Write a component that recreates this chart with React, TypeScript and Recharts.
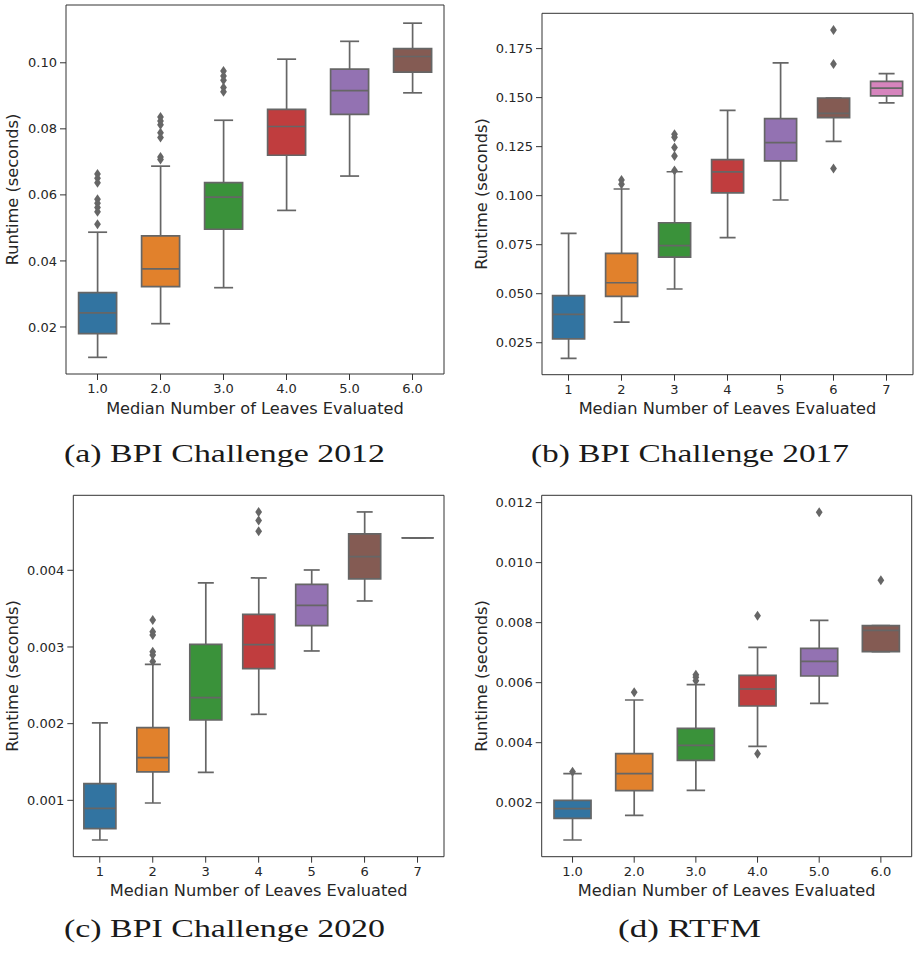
import React from 'react';
import { ComposedChart, Bar, Scatter, XAxis, YAxis, ReferenceArea } from 'recharts';

const LINE = '#666666';
const TEXT = '#262626';
const SPINE = '#333333';
const PALETTE = ['#3274a1', '#e1812c', '#3a923a', '#c03d3e', '#9372b2', '#845b53', '#d684bd'];
const X_LABEL = 'Median Number of Leaves Evaluated';
const Y_LABEL = 'Runtime (seconds)';

// ---------- (a) BPI Challenge 2012 ----------
const catsA = [1, 2, 3, 4, 5, 6];
const tickLabelsA = ['1.0', '2.0', '3.0', '4.0', '5.0', '6.0'];
const loA = [0.0108, 0.021, 0.0319, 0.0553, 0.0657, 0.0909];
const q1A = [0.018, 0.0322, 0.0496, 0.072, 0.0844, 0.0972];
const medA = [0.0243, 0.0376, 0.0593, 0.0807, 0.0916, 0.1019];
const q3A = [0.0304, 0.0476, 0.0637, 0.0859, 0.0981, 0.1043];
const hiA = [0.0487, 0.0687, 0.0826, 0.1011, 0.1065, 0.112];
const outCatA = [1, 1, 1, 1, 1, 1, 1, 1, 2, 2, 2, 2, 2, 2, 2, 3, 3, 3, 3, 3];
const outValA = [0.0663, 0.065, 0.0637, 0.0587, 0.0575, 0.0562, 0.0549, 0.0511, 0.0836, 0.0824, 0.0812, 0.0788, 0.0774, 0.0715, 0.0707, 0.0975, 0.096, 0.0947, 0.0925, 0.0912];
const yTicksA = [0.02, 0.04, 0.06, 0.08, 0.1];
const yDomainA = [0.00576, 0.1175];

// ---------- (b) BPI Challenge 2017 ----------
const catsB = [1, 2, 3, 4, 5, 6, 7];
const tickLabelsB = ['1', '2', '3', '4', '5', '6', '7'];
const loB = [0.017, 0.0355, 0.0524, 0.0786, 0.0978, 0.1277, 0.1473];
const q1B = [0.027, 0.0486, 0.0687, 0.1014, 0.1177, 0.1398, 0.1509];
const medB = [0.0395, 0.0556, 0.0745, 0.1121, 0.127, 0.142, 0.1548];
const q3B = [0.049, 0.0706, 0.0862, 0.1184, 0.1393, 0.1498, 0.1583];
const hiB = [0.0808, 0.1034, 0.1122, 0.1435, 0.1677, 0.1498, 0.1622];
const outCatB = [2, 2, 3, 3, 3, 3, 3, 6, 6, 6];
const outValB = [0.108, 0.1058, 0.1313, 0.1298, 0.1245, 0.1202, 0.1128, 0.1845, 0.1672, 0.1139];
const yTicksB = [0.025, 0.05, 0.075, 0.1, 0.125, 0.15, 0.175];
const yDomainB = [0.0087, 0.193];

// ---------- (c) BPI Challenge 2020 ----------
const catsC = [1, 2, 3, 4, 5, 6, 7];
const tickLabelsC = ['1', '2', '3', '4', '5', '6', '7'];
const loC = [0.000483, 0.000965, 0.001365, 0.002122, 0.002948, 0.0036, 0.004422];
const q1C = [0.00063, 0.00137, 0.002048, 0.002717, 0.003278, 0.003887, 0.004422];
const medC = [0.000896, 0.001557, 0.002339, 0.00303, 0.003543, 0.004178, 0.004422];
const q3C = [0.001217, 0.001948, 0.003035, 0.003426, 0.003817, 0.004474, 0.004422];
const hiC = [0.002009, 0.002774, 0.003835, 0.0039, 0.004004, 0.004761, 0.004422];
const outCatC = [2, 2, 2, 2, 2, 2, 4, 4, 4];
const outValC = [0.003352, 0.0032, 0.003157, 0.002939, 0.002896, 0.002809, 0.004761, 0.004648, 0.004509];
const yTicksC = [0.001, 0.002, 0.003, 0.004];
const yDomainC = [0.000265, 0.004978];

// ---------- (d) RTFM ----------
const catsD = [1, 2, 3, 4, 5, 6];
const tickLabelsD = ['1.0', '2.0', '3.0', '4.0', '5.0', '6.0'];
const loD = [0.000756, 0.001578, 0.002411, 0.003878, 0.005311, 0.007033];
const q1D = [0.001478, 0.0024, 0.003411, 0.005222, 0.006222, 0.007033];
const medD = [0.0018, 0.002967, 0.003911, 0.005789, 0.006711, 0.007744];
const q3D = [0.002078, 0.003633, 0.004478, 0.006244, 0.007144, 0.0079];
const hiD = [0.002967, 0.005422, 0.005933, 0.007178, 0.008078, 0.0079];
const outCatD = [1, 2, 3, 3, 3, 4, 4, 5, 6];
const outValD = [0.003033, 0.005678, 0.006267, 0.006178, 0.006067, 0.008233, 0.003633, 0.011678, 0.009411];
const yTicksD = [0.002, 0.004, 0.006, 0.008, 0.01, 0.012];
const yDomainD = [0.0002, 0.012244];

const captions = ['(a) BPI Challenge 2012', '(b) BPI Challenge 2017', '(c) BPI Challenge 2020', '(d) RTFM'];

function buildRows(cats: number[], lo: number[], q1: number[], med: number[], q3: number[], hi: number[]) {
  return cats.map((c, i) => ({
    x: c,
    whisk: [lo[i], hi[i]],
    box: [q1[i], q3[i]],
    med: [med[i], med[i]],
    color: PALETTE[i % PALETTE.length],
  }));
}

function buildOutliers(cats: number[], vals: number[]) {
  return cats.map((c, i) => ({ x: c, y: vals[i] }));
}

const WhiskerShape = (p: any) => {
  const { x, y, width, height } = p;
  if (x == null || y == null) return null;
  const cx = x + width / 2;
  const top = Math.min(y, y + height);
  const bot = Math.max(y, y + height);
  const hw = width / 4;
  return (
    <g stroke={LINE} strokeWidth={1.7} fill="none">
      <line x1={cx} x2={cx} y1={top} y2={bot} />
      <line x1={cx - hw} x2={cx + hw} y1={top} y2={top} />
      <line x1={cx - hw} x2={cx + hw} y1={bot} y2={bot} />
    </g>
  );
};

const BoxShape = (p: any) => {
  const { x, y, width, height } = p;
  if (x == null || y == null) return null;
  const top = Math.min(y, y + height);
  const bot = Math.max(y, y + height);
  const fill = (p.payload && p.payload.color) || p.fill;
  return (
    <path
      d={`M${x},${top}H${x + width}V${bot}H${x}Z`}
      fill={fill}
      stroke={LINE}
      strokeWidth={1.7}
      strokeLinejoin="miter"
    />
  );
};

const MedianShape = (p: any) => {
  const { x, y, width } = p;
  if (x == null || y == null) return null;
  return <line x1={x} x2={x + width} y1={y} y2={y} stroke={LINE} strokeWidth={1.7} />;
};

const Diamond = (p: any) => {
  const { cx, cy } = p;
  if (cx == null || cy == null) return null;
  return <path d={`M${cx},${cy - 5}L${cx + 3.4},${cy}L${cx},${cy + 5}L${cx - 3.4},${cy}Z`} fill={LINE} stroke="none" />;
};

type PanelCfg = {
  wx: number; wy: number; ww: number; wh: number;
  margin: { top: number; right: number; bottom: number; left: number };
  yAxisWidth: number;
  cats: number[]; tickLabels: string[];
  rows: any[]; outliers: any[];
  yDomain: number[]; yTicks: number[]; yDigits: number;
  yLabelX: number; xLabelDy: number;
};

function Panel({ cfg }: { cfg: PanelCfg }) {
  const { wx, wy, ww, wh, margin, yAxisWidth, cats, tickLabels, rows, outliers, yDomain, yTicks, yDigits, yLabelX, xLabelDy } = cfg;
  const xDomain = [0.5, cats.length + 0.5];
  const tickStyle = { fill: TEXT, fontSize: 13, fontFamily: 'DejaVu Sans' };
  const xLabel = (props: any) => {
    const vb = props.viewBox || {};
    return (
      <text x={vb.x + vb.width / 2} y={vb.y + xLabelDy} textAnchor="middle" fontSize={16.2} fontFamily="DejaVu Sans" fill={TEXT}>
        {X_LABEL}
      </text>
    );
  };
  const yLabel = (props: any) => {
    const vb = props.viewBox || {};
    const lx = vb.x + yLabelX;
    const ly = vb.y + vb.height / 2;
    return (
      <text x={lx} y={ly} transform={`rotate(-90, ${lx}, ${ly})`} textAnchor="middle" fontSize={16.2} fontFamily="DejaVu Sans" fill={TEXT}>
        {Y_LABEL}
      </text>
    );
  };
  return (
    <div style={{ position: 'absolute', left: wx, top: wy, width: ww, height: wh }}>
      <ComposedChart width={ww} height={wh} data={rows} margin={margin} barCategoryGap="20%">
        <XAxis
          xAxisId="main"
          type="number"
          dataKey="x"
          domain={xDomain}
          ticks={cats}
          interval={0}
          allowDataOverflow
          height={30}
          axisLine={false}
          tickLine={{ stroke: SPINE }}
          tickSize={6}
          tickMargin={4}
          tick={tickStyle}
          tickFormatter={(v: number) => tickLabels[cats.indexOf(v)] ?? ''}
          label={xLabel}
        />
        <XAxis xAxisId="w" type="number" dataKey="x" domain={xDomain} ticks={cats} allowDataOverflow hide height={0} />
        <XAxis xAxisId="m" type="number" dataKey="x" domain={xDomain} ticks={cats} allowDataOverflow hide height={0} />
        <YAxis
          type="number"
          domain={yDomain}
          ticks={yTicks}
          interval={0}
          allowDataOverflow
          width={yAxisWidth}
          axisLine={false}
          tickLine={{ stroke: SPINE }}
          tickSize={6}
          tickMargin={3}
          tick={tickStyle}
          tickFormatter={(v: number) => v.toFixed(yDigits)}
          label={yLabel}
        />
        <Bar xAxisId="w" dataKey="whisk" shape={WhiskerShape} isAnimationActive={false} />
        <Bar xAxisId="main" dataKey="box" shape={BoxShape} isAnimationActive={false} />
        <Bar xAxisId="m" dataKey="med" shape={MedianShape} isAnimationActive={false} />
        <Scatter xAxisId="main" data={outliers} dataKey="y" shape={Diamond} isAnimationActive={false} />
        <ReferenceArea
          xAxisId="main"
          x1={xDomain[0]}
          x2={xDomain[1]}
          y1={yDomain[0]}
          y2={yDomain[1]}
          fill="none"
          fillOpacity={0}
          stroke={SPINE}
          strokeWidth={1}
          ifOverflow="visible"
        />
      </ComposedChart>
    </div>
  );
}

const panels: PanelCfg[] = [
  {
    wx: 0, wy: 0, ww: 458, wh: 420,
    margin: { top: 5, right: 14, bottom: 16, left: 0 },
    yAxisWidth: 66,
    cats: catsA, tickLabels: tickLabelsA,
    rows: buildRows(catsA, loA, q1A, medA, q3A, hiA),
    outliers: buildOutliers(outCatA, outValA),
    yDomain: yDomainA, yTicks: yTicksA, yDigits: 2,
    yLabelX: 18, xLabelDy: 40,
  },
  {
    wx: 458, wy: 0, ww: 458, wh: 420,
    margin: { top: 13.3, right: 3, bottom: 15.3, left: 0 },
    yAxisWidth: 84,
    cats: catsB, tickLabels: tickLabelsB,
    rows: buildRows(catsB, loB, q1B, medB, q3B, hiB),
    outliers: buildOutliers(outCatB, outValB),
    yDomain: yDomainB, yTicks: yTicksB, yDigits: 3,
    yLabelX: 28.7, xLabelDy: 39.5,
  },
  {
    wx: 0, wy: 470, ww: 458, wh: 440,
    margin: { top: 25.3, right: 14, bottom: 23.3, left: 0 },
    yAxisWidth: 73.3,
    cats: catsC, tickLabels: tickLabelsC,
    rows: buildRows(catsC, loC, q1C, medC, q3C, hiC),
    outliers: buildOutliers(outCatC, outValC),
    yDomain: yDomainC, yTicks: yTicksC, yDigits: 3,
    yLabelX: 18.3, xLabelDy: 39.5,
  },
  {
    wx: 458, wy: 470, ww: 458, wh: 440,
    margin: { top: 25.3, right: 4.3, bottom: 23.3, left: 0 },
    yAxisWidth: 83.7,
    cats: catsD, tickLabels: tickLabelsD,
    rows: buildRows(catsD, loD, q1D, medD, q3D, hiD),
    outliers: buildOutliers(outCatD, outValD),
    yDomain: yDomainD, yTicks: yTicksD, yDigits: 3,
    yLabelX: 28.7, xLabelDy: 39.5,
  },
];

const captionPos = [
  { x: 64, y: 462, len: 321 },
  { x: 531, y: 462, len: 318 },
  { x: 64, y: 937, len: 321 },
  { x: 618, y: 937, len: 143 },
];

export default function App() {
  return (
    <div style={{ position: 'absolute', left: 0, top: 0, width: 916, height: 953, background: '#ffffff', overflow: 'hidden' }}>
      {panels.map((cfg, i) => (
        <Panel key={i} cfg={cfg} />
      ))}
      <svg width={916} height={953} style={{ position: 'absolute', left: 0, top: 0, pointerEvents: 'none' }}>
        {captions.map((c, i) => (
          <text
            key={c}
            x={captionPos[i].x}
            y={captionPos[i].y}
            fontFamily="'Liberation Serif', 'Times New Roman', serif"
            fontSize={25}
            fontWeight={400}
            fill="#1a1a1a"
            textLength={captionPos[i].len}
            lengthAdjust="spacingAndGlyphs"
          >
            {c}
          </text>
        ))}
      </svg>
    </div>
  );
}
